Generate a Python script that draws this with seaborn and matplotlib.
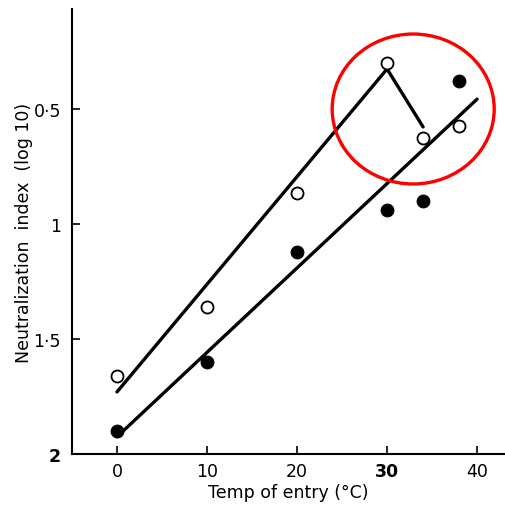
import matplotlib
matplotlib.use("Agg")
import matplotlib.pyplot as plt
from matplotlib.patches import Ellipse
import seaborn as sns
import pandas as pd

# data
temp_open = [0, 10, 20, 30, 34, 38]
index_open = [1.66, 1.36, 0.865, 0.30, 0.626, 0.574]
temp_filled = [0, 10, 20, 30, 34, 38]
index_filled = [1.90, 1.60, 1.12, 0.94, 0.90, 0.38]

line_upper_x = [0, 30, 34]
line_upper_y = [1.73, 0.326, 0.578]
line_lower_x = [0, 40]
line_lower_y = [1.925, 0.457]

yticks = [0.5, 1.0, 1.5, 2.0]
yticklabels = ["0·5", "1", "1·5", "2"]
xticks = [0, 10, 20, 30, 40]
xticklabels = ["0", "10", "20", "30", "40"]

sns.set_style("ticks")
plt.rcParams['font.family'] = ['DejaVu Sans']
plt.rcParams['text.color'] = 'black'
plt.rcParams['axes.labelcolor'] = 'black'
plt.rcParams['xtick.color'] = 'black'
plt.rcParams['ytick.color'] = 'black'
plt.rcParams['axes.edgecolor'] = 'black'

fig = plt.figure(figsize=(5.06, 5.10), dpi=100)
ax = fig.add_axes([72/506, 55/510, (505-72)/506, (455-10)/510])

df_up = pd.DataFrame({"x": line_upper_x, "y": line_upper_y})
df_lo = pd.DataFrame({"x": line_lower_x, "y": line_lower_y})
sns.lineplot(data=df_up, x="x", y="y", ax=ax, color="black", lw=2.4, sort=False, estimator=None)
sns.lineplot(data=df_lo, x="x", y="y", ax=ax, color="black", lw=2.4, sort=False, estimator=None)

df_o = pd.DataFrame({"x": temp_open, "y": index_open})
df_f = pd.DataFrame({"x": temp_filled, "y": index_filled})
sns.scatterplot(data=df_o, x="x", y="y", ax=ax, s=75, facecolor="white",
                edgecolor="black", linewidth=1.3, zorder=5)
sns.scatterplot(data=df_f, x="x", y="y", ax=ax, s=85, color="black",
                edgecolor="black", zorder=5)

ell = Ellipse((32.9, 0.50), width=18.0, height=0.652, fill=False,
              edgecolor="red", lw=2.4, zorder=6)
ax.add_patch(ell)

ax.set_xlim(-5, 43.1)
ax.set_ylim(2.0, 0.5 - 100/230)
ax.set_xticks(xticks)
ax.set_xticklabels(xticklabels, fontsize=12.5)
ax.set_yticks(yticks)
ax.set_yticklabels(yticklabels, fontsize=12.5)
ax.get_yticklabels()[-1].set_fontweight("bold")
ax.get_xticklabels()[3].set_fontweight("bold")
ax.tick_params(direction="in", length=6, width=1.2, pad=8)
ax.tick_params(axis="x", pad=6)

sns.despine(ax=ax)
for s in ["left", "bottom"]:
    ax.spines[s].set_linewidth(1.5)

ax.set_xlabel("Temp of entry (°C)", fontsize=12.5, labelpad=2)
ax.set_ylabel("Neutralization  index  (log 10)", fontsize=12.5, labelpad=0)

fig.savefig("out.png", dpi=100)
